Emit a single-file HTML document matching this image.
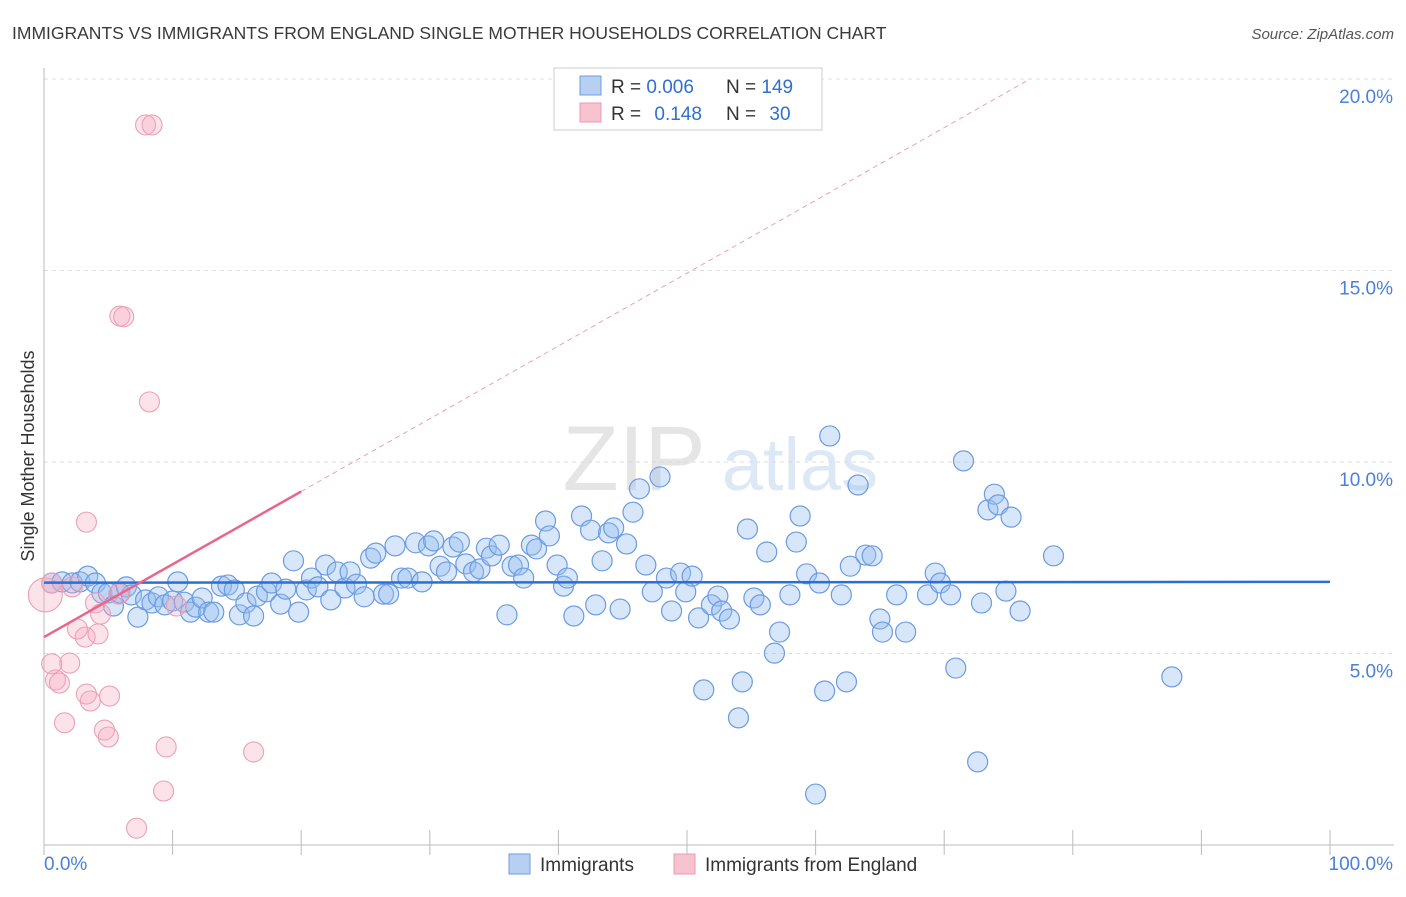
<!DOCTYPE html>
<html><head><meta charset="utf-8"><style>
body{margin:0;background:#fff;font-family:"Liberation Sans",sans-serif;}
svg text{font-family:"Liberation Sans",sans-serif;}
</style></head><body>
<svg id="chart" width="1406" height="892" xmlns="http://www.w3.org/2000/svg">
<text x="12" y="39" font-size="17.5" fill="#3a3a3a">IMMIGRANTS VS IMMIGRANTS FROM ENGLAND SINGLE MOTHER HOUSEHOLDS CORRELATION CHART</text>
<text x="1394" y="39" font-size="15" fill="#555" text-anchor="end" font-style="italic">Source: ZipAtlas.com</text>
<text transform="translate(34,456) rotate(-90)" font-size="18" fill="#333" text-anchor="middle">Single Mother Households</text>
<g opacity="0.25">
<text x="634" y="490" font-size="92" fill="#999" font-family="Liberation Serif" text-anchor="middle">ZIP</text>
<text x="800" y="490" font-size="74" fill="#7aa6df" text-anchor="middle">atlas</text>
</g>
<g id="grid"></g><g id="axes"></g><g id="pts"></g><g id="trend"></g>
<g>
<rect x="554" y="68" width="268" height="62" fill="#fff" stroke="#ccc"/>
<rect x="580" y="76" width="21" height="19" fill="#b7d0f2" stroke="#6f9de0"/>
<rect x="580" y="103" width="21" height="19" fill="#f8c3d0" stroke="#eb9ab0"/>
<text x="611" y="93" font-size="19" fill="#333">R = <tspan fill="#2f6fd0">0.006</tspan></text>
<text x="726" y="93" font-size="19" fill="#333">N = <tspan fill="#2f6fd0">149</tspan></text>
<text x="611" y="120" font-size="19" fill="#333">R = <tspan fill="#2f6fd0" dx="8">0.148</tspan></text>
<text x="726" y="120" font-size="19" fill="#333">N = <tspan fill="#2f6fd0" dx="8">30</tspan></text>
</g>
<g>
<rect x="509" y="854" width="21" height="20" fill="#b7d0f2" stroke="#6f9de0"/>
<text x="540" y="871" font-size="19" fill="#333">Immigrants</text>
<rect x="674" y="854" width="21" height="20" fill="#f8c3d0" stroke="#eb9ab0"/>
<text x="705" y="871" font-size="19" fill="#333">Immigrants from England</text>
</g>
</svg>
<script>
const blueX=[0.6,1.4,2.2,2.8,3.4,4.0,4.5,5.0,5.4,5.9,6.4,6.8,7.3,7.9,8.4,8.9,9.4,10.0,10.4,10.9,11.4,11.8,12.3,12.8,13.2,13.8,14.3,14.8,15.2,15.7,16.3,16.6,17.3,17.7,18.4,18.8,19.4,19.8,20.4,20.8,21.3,21.9,22.3,22.8,23.4,23.8,24.3,24.9,25.4,25.8,26.4,26.8,27.3,27.8,28.3,28.9,29.4,29.9,30.3,30.8,31.3,31.8,32.3,32.8,33.4,33.9,34.4,34.8,35.4,36.0,36.4,36.9,37.3,37.9,38.3,39.0,39.3,39.9,40.4,40.7,41.2,41.8,42.5,42.9,43.4,43.9,44.3,44.8,45.3,45.8,46.3,46.8,47.3,47.9,48.4,48.8,49.5,49.9,50.4,50.9,51.3,51.9,52.4,52.7,53.3,54.0,54.3,54.7,55.2,55.7,56.2,56.8,57.2,58.0,58.5,58.8,59.3,60.0,60.3,60.7,61.1,62.0,62.4,62.7,63.3,63.9,64.4,65.0,65.2,66.3,67.0,68.7,69.3,69.7,70.5,70.9,71.5,72.6,72.9,73.4,73.9,74.2,74.8,75.2,75.9,78.5,87.7];
const blueY=[6.84,6.87,6.84,6.87,7.02,6.84,6.58,6.58,6.24,6.58,6.74,6.53,5.95,6.40,6.32,6.48,6.27,6.37,6.87,6.34,6.08,6.21,6.45,6.08,6.08,6.76,6.79,6.66,6.01,6.32,5.98,6.50,6.61,6.84,6.29,6.68,7.42,6.08,6.66,6.97,6.74,7.31,6.40,7.13,6.71,7.13,6.81,6.48,7.49,7.62,6.55,6.55,7.81,6.97,6.97,7.89,6.87,7.81,7.94,7.28,7.13,7.78,7.91,7.34,7.13,7.21,7.75,7.55,7.83,6.01,7.28,7.31,6.97,7.83,7.73,8.46,8.07,7.31,6.76,6.97,5.98,8.59,8.22,6.27,7.42,8.15,8.28,6.16,7.86,8.69,9.30,7.31,6.61,9.61,6.97,6.11,7.10,6.61,7.02,5.93,4.05,6.27,6.50,6.11,5.90,3.32,4.26,8.25,6.45,6.27,7.65,5.01,5.56,6.53,7.91,8.59,7.08,1.33,6.84,4.02,10.68,6.53,4.26,7.28,9.40,7.57,7.55,5.90,5.56,6.53,5.56,6.53,7.10,6.84,6.53,4.62,10.03,2.17,6.32,8.75,9.16,8.88,6.63,8.56,6.11,7.55,4.39];
const pinkX=[0.1,0.6,2.2,3.2,3.3,4.0,4.2,4.4,5.1,0.9,1.2,2.0,0.6,1.6,3.6,4.7,5.0,5.8,5.9,6.2,7.9,8.4,8.2,9.5,9.3,7.2,10.3,16.3,2.6,3.3];
const pinkY=[6.53,6.84,6.74,5.43,8.43,6.32,5.51,6.03,3.89,4.31,4.23,4.75,4.73,3.19,3.76,3.00,2.82,6.55,13.81,13.79,18.80,18.80,11.57,2.56,1.41,0.44,6.24,2.43,5.64,3.94];
const pinkR=[17,10,10,10,10,10,10,10,10,10,10,10,10,10,10,10,10,10,10,10,10,10,10,10,10,10,10,10,10,10];
const yTicks=[5,10,15,20];
const xTickLabels=["0.0%","100.0%"];
const blueTrend=[6.85,6.87];
const pinkTrend=[5.43,0.19];

const X=v=>44+v*12.86, Y=v=>845-v*38.3;
const NS="http://www.w3.org/2000/svg";
function mk(parent,tag,attrs){const e=document.createElementNS(NS,tag);for(const k in attrs)e.setAttribute(k,attrs[k]);document.getElementById(parent).appendChild(e);return e;}
yTicks.forEach(t=>{
 const l=mk('grid','line',{x1:44,x2:1394,y1:Y(t),y2:Y(t),stroke:'#ddd','stroke-dasharray':'4,4'});
 
 
 const tx=mk('grid','text',{x:1393,y:Y(t)+24,'font-size':19,fill:'#4a80d8','text-anchor':'end'});
 tx.textContent=t.toFixed(1)+'%';
 
 
});
const ax=mk('axes','line',{x1:44,x2:1394,y1:845,y2:845,stroke:'#bbb'});


const ay=mk('axes','line',{x1:44,x2:44,y1:68,y2:845,stroke:'#bbb'});


for(let i=0;i<=10;i++){const t=mk('axes','line',{x1:X(i*10),x2:X(i*10),y1:830,y2:855,stroke:'#bbb'});
 
 }
const l0=mk('axes','text',{x:44,y:870,'font-size':19,fill:'#4a80d8'});l0.textContent=xTickLabels[0];


const l1=mk('axes','text',{x:1393,y:870,'font-size':19,fill:'#4a80d8','text-anchor':'end'});l1.textContent=xTickLabels[1];


blueX.forEach((x,i)=>{const c=mk('pts','circle',{cx:X(x),cy:Y(blueY[i]),r:10,fill:'rgba(150,190,240,0.38)',stroke:'#6b9be0','stroke-width':1.2});
 
 });
pinkX.forEach((x,i)=>{const c=mk('pts','circle',{cx:X(x),cy:Y(pinkY[i]),r:pinkR[i],fill:'rgba(245,170,190,0.33)',stroke:'#eba0b5','stroke-width':1.1});
 
 });
const bt=mk('trend','line',{x1:X(0),x2:X(100),y1:Y(blueTrend[0]),y2:Y(blueTrend[1]),stroke:'#2a6fd6','stroke-width':2.5});


const pt=mk('trend','line',{x1:X(0),x2:X(20),y1:Y(pinkTrend[0]),y2:Y(pinkTrend[0]+pinkTrend[1]*20),stroke:'#e8668e','stroke-width':2.5});


const xEnd=(20-pinkTrend[0])/pinkTrend[1];
const pd=mk('trend','line',{x1:X(20),x2:X(xEnd),y1:Y(pinkTrend[0]+pinkTrend[1]*20),y2:Y(20),stroke:'#eaa0b8','stroke-width':1,'stroke-dasharray':'5,4'});


</script>
</body></html>
